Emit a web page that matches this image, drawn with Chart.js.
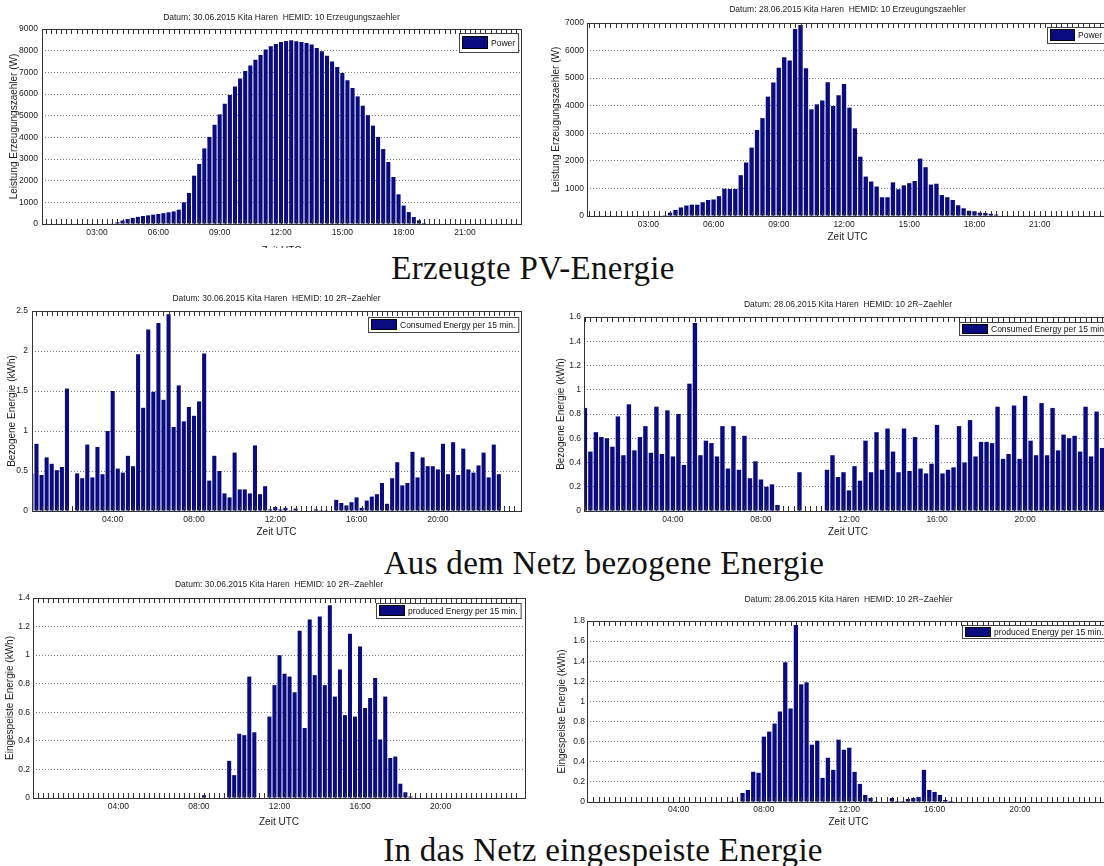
<!DOCTYPE html>
<html>
<head>
<meta charset="utf-8">
<script src="https://cdn.jsdelivr.net/npm/chart.js@4.4.1/dist/chart.umd.min.js"></script>
<style>
html, body { margin: 0; padding: 0; background: #fff; overflow: hidden; }
body { width: 1104px; height: 866px; position: relative; }
.wrap { position: absolute; overflow: hidden; }
.wrap canvas { position: absolute; left: 0; top: 0; }
.cap { position: absolute; width: 800px; text-align: center; white-space: nowrap;
       font-family: 'Liberation Serif', 'DejaVu Serif', serif; font-size: 33px; letter-spacing: 0.3px;
       line-height: 38px; color: #111; }
</style>
</head>
<body>
<div class="cap" style="left:133px;top:249px">Erzeugte PV-Energie</div>
<div class="cap" style="left:204px;top:544px">Aus dem Netz bezogene Energie</div>
<div class="cap" style="left:203px;top:831px">In das Netz eingespeiste Energie</div>

<script>
// 15-Minuten-Raster (00:00 ... 23:45)
var slots = [];
for (var h = 0; h < 24; h++) {
  for (var m = 0; m < 60; m += 15) {
    slots.push(String(h).padStart(2, '0') + ':' + String(m).padStart(2, '0'));
  }
}
function toHours(t) {
  var p = t.split(':');
  return +p[0] + p[1] / 60;
}
var slotHours = slots.map(toHours);

var ticks3h = ['03:00', '06:00', '09:00', '12:00', '15:00', '18:00', '21:00'];
var ticks4h = ['04:00', '08:00', '12:00', '16:00', '20:00'];

// Leistung Erzeugungszaehler (W), 30.06.2015
var power3006 = [
  0, 0, 0, 0, 0, 0, 0, 0, 0, 0, 0, 0,
  0, 0, 0, 30, 80, 160, 230, 280, 330, 370, 400, 430,
  460, 500, 540, 580, 660, 1000, 1430, 2230, 2770, 3490, 4020, 4580,
  5060, 5550, 5950, 6350, 6710, 7060, 7310, 7580, 7800, 8050, 8200, 8310,
  8400, 8450, 8480, 8430, 8400, 8350, 8280, 8120, 7970, 7770, 7500, 7250,
  6970, 6630, 6280, 5890, 5460, 5020, 4540, 4020, 3460, 2860, 2170, 1370,
  850, 550, 320, 170, 50, 0, 0, 0, 0, 0, 0, 0,
  0, 0, 0, 0, 0, 0, 0, 0, 0, 0, 0, 0
];
// Leistung Erzeugungszaehler (W), 28.06.2015
var power2806 = [
  0, 0, 0, 0, 0, 0, 0, 0, 0, 0, 0, 0,
  0, 0, 0, 30, 120, 220, 310, 380, 410, 410, 500, 580,
  600, 720, 990, 980, 980, 1480, 1940, 2480, 3120, 3550, 4330, 4840,
  5380, 5760, 5640, 6780, 6930, 5360, 3870, 4050, 4190, 4850, 3990, 4380,
  4790, 3930, 3180, 2150, 1430, 1250, 1070, 680, 680, 1220, 970, 1110,
  1190, 1270, 2080, 1770, 1140, 1170, 760, 680, 580, 390, 280, 190,
  170, 120, 110, 80, 50, 20, 0, 0, 0, 0, 0, 0,
  0, 0, 0, 0, 0, 0, 0, 0, 0, 0, 0, 0
];
// Bezogene Energie (kWh), 30.06.2015
var consumed3006 = [
  0.47, 0.84, 0.45, 0.67, 0.59, 0.51, 0.55, 1.53, 0, 0.47, 0.41, 0.83,
  0.42, 0.80, 0.46, 1.00, 1.50, 0.53, 0.48, 0.69, 0.56, 1.96, 1.29, 2.27,
  1.49, 2.35, 1.39, 2.46, 1.05, 1.57, 1.12, 1.30, 1.19, 1.37, 1.97, 0.38,
  0.69, 0.50, 0.22, 0.17, 0.73, 0.27, 0.27, 0.22, 0.82, 0.21, 0.31, 0.02,
  0.05, 0.02, 0.04, 0.01, 0.03, 0, 0, 0, 0.02, 0.01, 0.01, 0,
  0.14, 0.10, 0.07, 0.11, 0.17, 0.04, 0.13, 0.18, 0.21, 0.35, 0.09, 0.41,
  0.61, 0.32, 0.35, 0.74, 0.42, 0.67, 0.56, 0.56, 0.52, 0.84, 0.46, 0.86,
  0.45, 0.78, 0.52, 0.48, 0.57, 0.73, 0.42, 0.83, 0.46, 0, 0, 0
];
// Bezogene Energie (kWh), 28.06.2015
var consumed2806 = [
  0.85, 0.49, 0.65, 0.61, 0.60, 0.53, 0.78, 0.46, 0.88, 0.50, 0.61, 0.70,
  0.48, 0.86, 0.47, 0.83, 0.45, 0.80, 0.38, 1.05, 1.55, 0.46, 0.58, 0.56,
  0.45, 0.70, 0.35, 0.70, 0.34, 0.62, 0.27, 0.41, 0.26, 0.20, 0.22, 0.05,
  0, 0, 0, 0.32, 0, 0, 0, 0, 0.34, 0.46, 0.28, 0.32,
  0.17, 0.37, 0.25, 0.58, 0.32, 0.65, 0.34, 0.68, 0.49, 0.32, 0.68, 0.33,
  0.61, 0.35, 0.31, 0.39, 0.71, 0.31, 0.34, 0.36, 0.70, 0.40, 0.75, 0.45,
  0.57, 0.57, 0.56, 0.86, 0.43, 0.47, 0.87, 0.43, 0.95, 0.58, 0.46, 0.89,
  0.46, 0.85, 0.50, 0.63, 0.60, 0.62, 0.49, 0.86, 0.45, 0.82, 0.52, 0.50
];
// Eingespeiste Energie (kWh), 30.06.2015
var produced3006 = [
  0, 0, 0, 0, 0, 0, 0, 0, 0, 0, 0, 0,
  0, 0, 0, 0, 0, 0, 0, 0, 0, 0, 0, 0,
  0, 0, 0, 0, 0, 0, 0, 0, 0, 0.02, 0, 0,
  0, 0, 0.26, 0.16, 0.45, 0.44, 0.85, 0.46, 0, 0, 0.57, 0.79,
  1.00, 0.87, 0.85, 0.74, 1.17, 0.49, 1.25, 0.86, 1.27, 0.79, 1.35, 0.71,
  0.90, 0.58, 1.15, 0.57, 1.06, 0.63, 0.70, 0.84, 0.41, 0.71, 0.28, 0.29,
  0.10, 0.04, 0.01, 0, 0, 0, 0, 0, 0, 0, 0, 0,
  0, 0, 0, 0, 0, 0, 0, 0, 0, 0, 0, 0
];
// Eingespeiste Energie (kWh), 28.06.2015
var produced2806 = [
  0, 0, 0, 0, 0, 0, 0, 0, 0, 0, 0, 0,
  0, 0, 0, 0, 0, 0, 0, 0, 0, 0, 0, 0,
  0, 0, 0.01, 0, 0.09, 0.12, 0.30, 0.29, 0.65, 0.70, 0.78, 0.90,
  1.39, 0.93, 1.76, 1.17, 1.19, 0.57, 0.61, 0.24, 0.44, 0.32, 0.62, 0.52,
  0.54, 0.30, 0.18, 0.07, 0.04, 0.01, 0, 0, 0.04, 0.01, 0.01, 0.03,
  0.04, 0.05, 0.32, 0.12, 0.10, 0.07, 0.02, 0.01, 0, 0, 0, 0,
  0, 0, 0, 0, 0, 0, 0, 0, 0, 0, 0, 0,
  0, 0, 0, 0, 0, 0, 0, 0, 0, 0, 0, 0
];

var BAR = '#0b0b80';
var FONT = "'Liberation Sans', Arial, sans-serif";
var TF = 8.5, LF = 8.5, AF = 10;   // Titel-, Label-, Achsentitel-Schrift
Chart.defaults.font.family = FONT;
Chart.defaults.color = '#222';

// Rahmen + Matlab-Teilstriche oben/unten an jedem 15-min-Slot
var matlabFrame = {
  id: 'matlabFrame',
  afterDatasetsDraw: function (chart) {
    var ctx = chart.ctx, a = chart.chartArea, x = chart.scales.x;
    ctx.save();
    ctx.strokeStyle = '#333';
    ctx.lineWidth = 1;
    ctx.beginPath();
    slotHours.forEach(function (hh) {
      if (hh < x.min || hh > x.max) return;
      var px = Math.round(x.getPixelForValue(hh)) + 0.5;
      ctx.moveTo(px, a.top); ctx.lineTo(px, a.top + 5);
      ctx.moveTo(px, a.bottom); ctx.lineTo(px, a.bottom - 5);
    });
    ctx.stroke();
    ctx.strokeRect(Math.round(a.left) + 0.5, Math.round(a.top) + 0.5, Math.round(a.width), Math.round(a.height));
    ctx.restore();
  }
};

// Legende als Kasten oben rechts im Plot
var boxLegend = {
  id: 'boxLegend',
  afterDraw: function (chart, args, o) {
    var ctx = chart.ctx, a = chart.chartArea, ds = chart.data.datasets[0];
    ctx.save();
    ctx.font = LF + 'px ' + FONT;
    var tw = ctx.measureText(ds.label).width;
    var w = 3 + o.sw + 3 + tw + 3;
    var x = Math.round(a.right - o.dx - w), y = Math.round(a.top + o.dy);
    ctx.fillStyle = '#fff';
    ctx.fillRect(x, y, w, o.h);
    ctx.strokeStyle = '#444';
    ctx.lineWidth = 1;
    ctx.strokeRect(x + 0.5, y + 0.5, w, o.h);
    var sy = y + Math.round((o.h - o.sh) / 2);
    ctx.fillStyle = ds.backgroundColor;
    ctx.fillRect(x + 3, sy, o.sw, o.sh);
    ctx.strokeStyle = '#000';
    ctx.strokeRect(x + 3.5, sy + 0.5, o.sw - 1, o.sh - 1);
    ctx.fillStyle = '#111';
    ctx.textBaseline = 'middle';
    ctx.fillText(ds.label, x + 6 + o.sw, y + o.h / 2 + 1);
    ctx.restore();
  }
};

function makeChart(c) {
  var H = Math.ceil(c.xTitleY - c.y0 + AF * 0.6 + 1);
  var wrap = document.createElement('div');
  wrap.className = 'wrap';
  wrap.style.left = c.x0 + 'px';
  wrap.style.top = c.y0 + 'px';
  wrap.style.width = c.w + 'px';
  wrap.style.height = (c.clipH || H) + 'px';
  var cv = document.createElement('canvas');
  cv.width = c.w;
  cv.height = H;
  wrap.appendChild(cv);
  document.body.appendChild(wrap);

  var pT = c.plotT - c.y0, pB = c.plotB - c.y0;
  var axisBottom = c.xTitleY - c.y0 + AF * 0.6;
  var tTop = c.titleY - c.y0 - TF * 0.6;
  var tickH = c.xTicks.map(toHours);

  new Chart(cv, {
    type: 'bar',
    data: {
      labels: slotHours,
      datasets: [{
        label: c.legend,
        data: c.values,
        backgroundColor: BAR,
        borderWidth: 0,
        barPercentage: 0.8,
        categoryPercentage: 1,
        clip: 0
      }]
    },
    options: {
      responsive: false,
      animation: false,
      events: [],
      layout: { padding: { left: 0, top: 0, right: c.w - (c.plotR - c.x0), bottom: H - axisBottom } },
      plugins: {
        legend: { display: false },
        tooltip: { enabled: false },
        title: {
          display: true, text: c.title, fullSize: false, color: '#222',
          font: { size: TF, weight: 'normal' },
          padding: { top: tTop, bottom: pT - tTop - TF * 1.2 }
        },
        boxLegend: c.leg
      },
      scales: {
        x: {
          type: 'linear', offset: false, min: c.xmin, max: c.xmax,
          afterFit: function (s) { s.height = axisBottom - pB; },
          afterBuildTicks: function (s) { s.ticks = tickH.map(function (v) { return { value: v }; }); },
          ticks: {
            autoSkip: false, maxRotation: 0, color: '#222', font: { size: LF },
            padding: c.xLabY - c.plotB - LF * 0.6,
            callback: function (v) { return c.xTicks[tickH.indexOf(v)]; }
          },
          grid: { display: false, drawTicks: false, offset: false },
          border: { display: false },
          title: { display: true, text: 'Zeit UTC', color: '#222', font: { size: AF }, padding: 0 }
        },
        y: {
          min: 0, max: c.ymax,
          afterFit: function (s) { s.width = c.plotL - c.x0; },
          ticks: {
            stepSize: c.ystep, padding: c.yLabPad, color: '#222', font: { size: LF },
            callback: function (v) { return String(+v.toFixed(2)); }
          },
          grid: { color: '#7a7a7a', lineWidth: 1, drawTicks: false },
          border: { display: false, dash: [1, 2] },
          title: {
            display: true, text: c.yTitle, color: '#222', font: { size: AF },
            padding: { top: c.yTitleX - c.x0 - AF * 0.6, bottom: 0 }
          }
        }
      }
    },
    plugins: [matlabFrame, boxLegend]
  });
}

var titleErz30 = 'Datum: 30.06.2015 Kita Haren  HEMID: 10 Erzeugungszaehler';
var titleErz28 = 'Datum: 28.06.2015 Kita Haren  HEMID: 10 Erzeugungszaehler';
var title2R30 = 'Datum: 30.06.2015 Kita Haren  HEMID: 10 2R\u2212Zaehler';
var title2R28 = 'Datum: 28.06.2015 Kita Haren  HEMID: 10 2R\u2212Zaehler';

makeChart({
  x0: 0, y0: 0, w: 540, clipH: 248,
  plotL: 42, plotR: 521, plotT: 29, plotB: 224,
  titleY: 18, xLabY: 233, xTitleY: 251, yTitleX: 14, yLabPad: 4,
  xmin: 0.31, xmax: 23.74, ymax: 9000, ystep: 1000, xTicks: ticks3h,
  values: power3006, title: titleErz30, legend: 'Power',
  yTitle: 'Leistung Erzeugungszaehler (W)',
  leg: { dx: 3, dy: 4, h: 19, sw: 26, sh: 13 }
});
makeChart({
  x0: 540, y0: 0, w: 600, clipH: 246,
  plotL: 587, plotR: 1108, plotT: 23, plotB: 216,
  titleY: 10, xLabY: 225, xTitleY: 237, yTitleX: 556, yLabPad: 3,
  xmin: 0.18, xmax: 24.14, ymax: 7000, ystep: 1000, xTicks: ticks3h,
  values: power2806, title: titleErz28, legend: 'Power',
  yTitle: 'Leistung Erzeugungszaehler (W)',
  leg: { dx: 3, dy: 4, h: 16, sw: 25, sh: 12 }
});
makeChart({
  x0: 0, y0: 285, w: 540,
  plotL: 32, plotR: 521, plotT: 311, plotB: 511,
  titleY: 299, xLabY: 520, xTitleY: 532, yTitleX: 12, yLabPad: 4,
  xmin: 0.03, xmax: 24.09, ymax: 2.5, ystep: 0.5, xTicks: ticks4h,
  values: consumed3006, title: title2R30, legend: 'Consumed Energy per 15 min.',
  yTitle: 'Bezogene Energie (kWh)',
  leg: { dx: 3, dy: 6, h: 15, sw: 26, sh: 11 }
});
makeChart({
  x0: 540, y0: 290, w: 600,
  plotL: 584, plotR: 1112, plotT: 317, plotB: 511,
  titleY: 305, xLabY: 520, xTitleY: 532, yTitleX: 561, yLabPad: 3,
  xmin: -0.04, xmax: 23.95, ymax: 1.6, ystep: 0.2, xTicks: ticks4h,
  values: consumed2806, title: title2R28, legend: 'Consumed Energy per 15 min.',
  yTitle: 'Bezogene Energie (kWh)',
  leg: { dx: 3, dy: 5, h: 13, sw: 26, sh: 10 }
});
makeChart({
  x0: 0, y0: 575, w: 540,
  plotL: 33, plotR: 525, plotT: 598, plotB: 798,
  titleY: 585, xLabY: 807, xTitleY: 822, yTitleX: 10, yLabPad: 3,
  xmin: -0.24, xmax: 24.19, ymax: 1.4, ystep: 0.2, xTicks: ticks4h,
  values: produced3006, title: title2R30, legend: 'produced Energy per 15 min.',
  yTitle: 'Eingespeiste Energie (kWh)',
  leg: { dx: 4, dy: 5, h: 15, sw: 26, sh: 11 }
});
makeChart({
  x0: 540, y0: 585, w: 600,
  plotL: 587, plotR: 1110, plotT: 621, plotB: 802,
  titleY: 600, xLabY: 810, xTitleY: 822, yTitleX: 562, yLabPad: 2,
  xmin: -0.29, xmax: 24.22, ymax: 1.8, ystep: 0.2, xTicks: ticks4h,
  values: produced2806, title: title2R28, legend: 'produced Energy per 15 min.',
  yTitle: 'Eingespeiste Energie (kWh)',
  leg: { dx: 3, dy: 4, h: 13, sw: 26, sh: 10 }
});
</script>
</body>
</html>
